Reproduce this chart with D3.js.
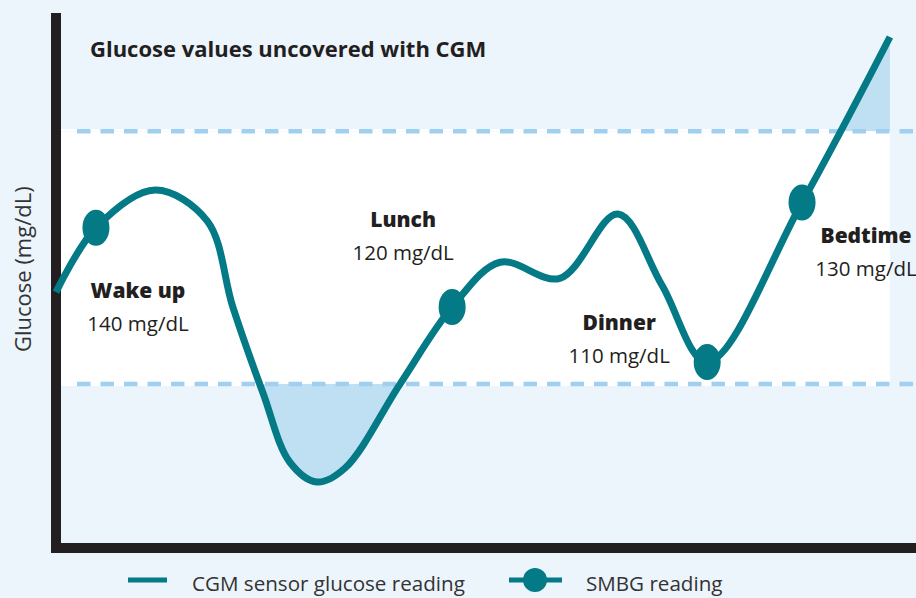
<!DOCTYPE html>
<html>
<head>
<meta charset="utf-8">
<script src="https://cdn.jsdelivr.net/npm/d3@7"></script>
<style>
  body { margin: 0; background: #ECF4FC; }
  svg { display: block; }
  .title { font-family: 'Open Sans', sans-serif; font-weight: 700; font-size: 22px; fill: #231F20; }
  .name { font-family: 'Open Sans', sans-serif; font-weight: 800; font-size: 21px; fill: #231F20; }
  .value { font-family: 'Open Sans', sans-serif; font-weight: 400; font-size: 20.5px; fill: #231F20; }
  .axis-title { font-family: 'Open Sans', sans-serif; font-weight: 400; font-size: 22px; fill: #333; }
  .legend-text { font-family: 'Open Sans', sans-serif; font-weight: 400; font-size: 20.6px; fill: #333; }
</style>
</head>
<body>
<div class="chart"></div>
<script>
// CGM trace (hours of the day, mg/dL)
const hours = [0, 1.15, 2.85, 4.35, 5.09, 5.96, 6.73, 7.51, 8.32, 9.9,
  11.4, 12.78, 14.5, 16.17, 17.44, 18.74, 21.47, 24];
const glucose = [110, 138, 154.4, 141, 103.5, 66, 36, 27.4, 33.5, 70,
  103.5, 123, 116, 144, 113, 79.6, 149, 221];

// finger-stick readings
const smbgHours = [1.15, 11.4, 18.74, 21.47];
const smbgGlucose = [138, 103.5, 79.6, 149];
const smbgNames = ['Wake up', 'Lunch', 'Dinner', 'Bedtime'];
const smbgLabels = ['140 mg/dL', '120 mg/dL', '110 mg/dL', '130 mg/dL'];

const targetRange = [70, 180];
const legendLabels = ['CGM sensor glucose reading', 'SMBG reading'];

const teal = '#037A86';
const W = 916, H = 598;

const svg = d3.select('.chart')
    .append('svg')
    .attr('width', W)
    .attr('height', H);

const x = d3.scaleLinear().domain([0, 24.75]).range([56, 916]);
const y = d3.scaleLinear().domain([0, 231]).range([545, 14]);

const cgm = hours.map((h, i) => ({h: h, v: glucose[i]}));
const smbg = smbgHours.map((h, i) => ({h: h, v: smbgGlucose[i], name: smbgNames[i], label: smbgLabels[i]}));

// white target band
svg.append('rect')
    .attr('x', x(0))
    .attr('width', x(24) - x(0))
    .attr('y', y(targetRange[1]) - 2)
    .attr('height', y(targetRange[0]) - y(targetRange[1]) + 4)
    .attr('fill', '#fff');

// clip areas for out-of-range shading
const defs = svg.append('defs');
defs.append('clipPath').attr('id', 'above')
  .append('rect')
    .attr('x', x(0)).attr('y', 0)
    .attr('width', x(24) - x(0)).attr('height', y(targetRange[1]));
defs.append('clipPath').attr('id', 'below')
  .append('rect')
    .attr('x', x(0)).attr('y', y(targetRange[0]))
    .attr('width', x(24) - x(0)).attr('height', H - y(targetRange[0]));

const curve = d3.curveCatmullRom.alpha(0.5);

svg.append('path')
    .datum(cgm)
    .attr('clip-path', 'url(#above)')
    .attr('fill', '#BFDFF3')
    .attr('d', d3.area().curve(curve).x(d => x(d.h)).y0(y(targetRange[1])).y1(d => y(d.v)));

svg.append('path')
    .datum(cgm)
    .attr('clip-path', 'url(#below)')
    .attr('fill', '#BFDFF3')
    .attr('d', d3.area().curve(curve).x(d => x(d.h)).y0(y(targetRange[0])).y1(d => y(d.v)));

// dashed range limits
svg.selectAll('.limit')
    .data(targetRange)
    .enter()
    .append('line')
    .attr('class', 'limit')
    .attr('x1', x(0) + 21)
    .attr('x2', W)
    .attr('y1', d => y(d))
    .attr('y2', d => y(d))
    .attr('stroke', '#A0CFEF')
    .attr('stroke-width', 4.5)
    .attr('stroke-dasharray', '13.5,10');

// frame
svg.append('path')
    .attr('d', d3.line()([[x(0), y(231) - 1], [x(0), y(0) + 3], [W, y(0) + 3]]))
    .attr('fill', 'none')
    .attr('stroke', '#231F20')
    .attr('stroke-width', 10)
    .attr('stroke-linejoin', 'miter');

svg.append('text')
    .attr('class', 'axis-title')
    .attr('transform', `translate(31, ${y(120)}) rotate(-90)`)
    .attr('text-anchor', 'middle')
    .text('Glucose (mg/dL)');

svg.append('text')
    .attr('class', 'title')
    .attr('x', 90)
    .attr('y', 57)
    .text('Glucose values uncovered with CGM');

// CGM line
svg.append('path')
    .datum(cgm)
    .attr('fill', 'none')
    .attr('stroke', teal)
    .attr('stroke-width', 7)
    .attr('d', d3.line().curve(curve).x(d => x(d.h)).y(d => y(d.v)));

// SMBG dots
svg.selectAll('.dot')
    .data(smbg)
    .enter()
    .append('ellipse')
    .attr('class', 'dot')
    .attr('cx', d => x(d.h))
    .attr('cy', d => y(d.v))
    .attr('rx', 13.5)
    .attr('ry', 18)
    .attr('fill', teal);

// annotation offsets from each dot
const offsets = [[42, 70], [-49, -80], [-88, -32], [64, 41]];
const ann = svg.selectAll('.ann')
    .data(smbg)
    .enter()
    .append('g')
    .attr('class', 'ann')
    .attr('transform', (d, i) => `translate(${x(d.h) + offsets[i][0]}, ${y(d.v) + offsets[i][1]})`);
ann.append('text')
    .attr('class', 'name')
    .attr('text-anchor', 'middle')
    .text(d => d.name);
ann.append('text')
    .attr('class', 'value')
    .attr('text-anchor', 'middle')
    .attr('y', 33)
    .text(d => d.label);

// legend
const leg = svg.append('g');
leg.append('line')
    .attr('x1', 128).attr('x2', 167).attr('y1', 580).attr('y2', 580)
    .attr('stroke', teal).attr('stroke-width', 5);
leg.append('text')
    .attr('class', 'legend-text')
    .attr('x', 192).attr('y', 591)
    .text(legendLabels[0]);
leg.append('line')
    .attr('x1', 509).attr('x2', 562).attr('y1', 580).attr('y2', 580)
    .attr('stroke', teal).attr('stroke-width', 5);
leg.append('circle')
    .attr('cx', 535).attr('cy', 580).attr('r', 12)
    .attr('fill', teal);
leg.append('text')
    .attr('class', 'legend-text')
    .attr('x', 586).attr('y', 591)
    .text(legendLabels[1]);
</script>
</body>
</html>
